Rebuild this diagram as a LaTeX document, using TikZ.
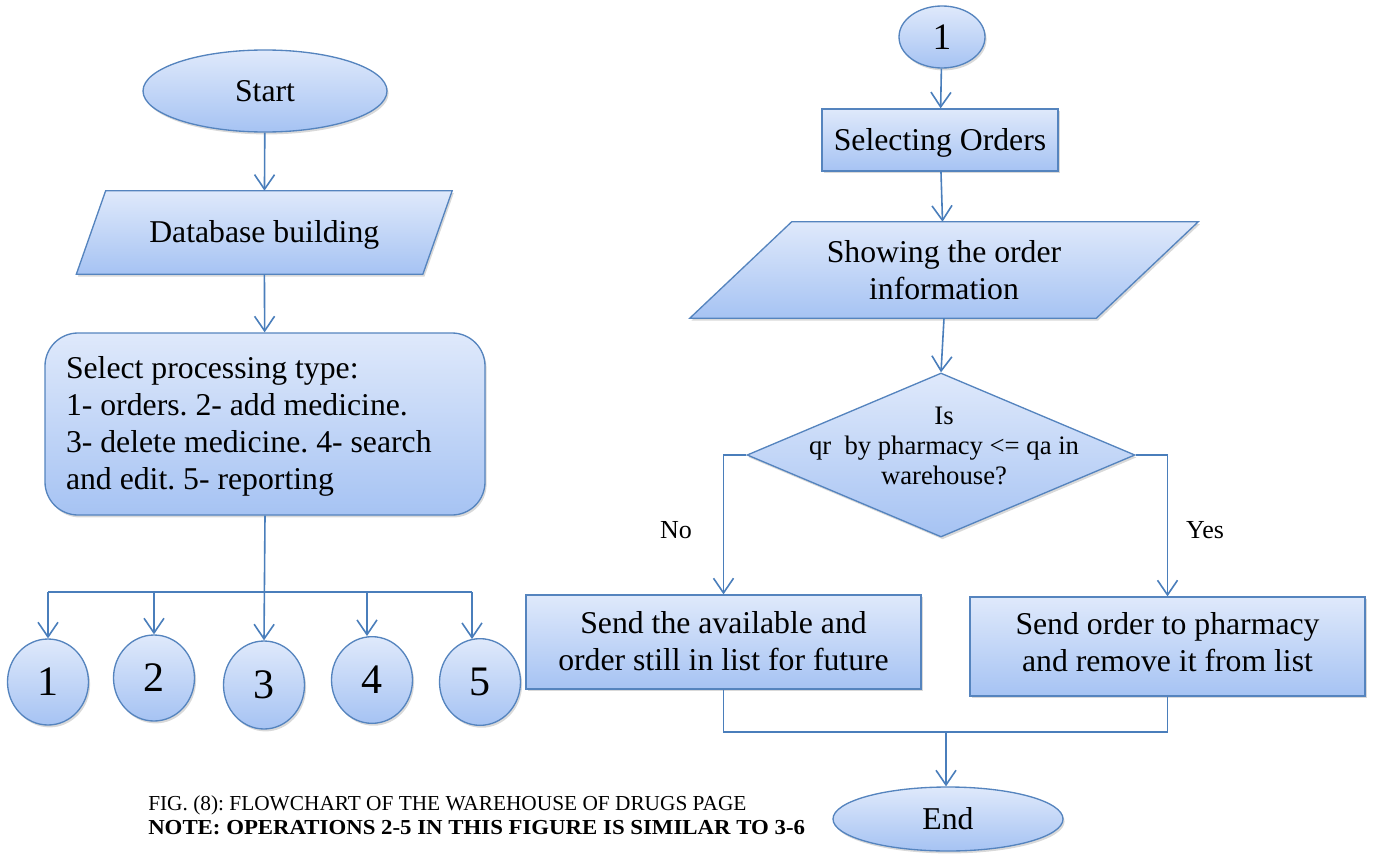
\documentclass[tikz,border=0pt]{standalone}
\usepackage{fontspec}
\setmainfont{Liberation Serif}
\frenchspacing
\usetikzlibrary{shapes.geometric,arrows.meta,shadows,calc}
\definecolor{lc}{HTML}{4A7EBB}
\definecolor{bc}{HTML}{5584BE}
\definecolor{ftop}{HTML}{DFE9FB}
\definecolor{fbot}{HTML}{A6C3F3}
\pgfdeclarelayer{bg}
\pgfsetlayers{bg,main}
\newcommand\bigtxt{\fontsize{20}{23.3}\selectfont}
\newcommand\bt[1]{\scalebox{1.19}{\begin{tabular}{@{}c@{}}#1\end{tabular}}}
\newcommand\btl[1]{\scalebox{1.19}{\begin{tabular}{@{}l@{}}#1\end{tabular}}}
\newcommand\shiftv[2]{\raisebox{#1}[\height][\depth]{#2}}
\tikzset{
  shapefill/.style={draw=bc, line width=1pt, top color=ftop, bottom color=fbot,
    drop shadow={shadow xshift=1.2pt, shadow yshift=-1.8pt, opacity=0.3}},
  term/.style={ellipse, shapefill, inner sep=0pt, font=\bigtxt},
  conn/.style={ellipse, shapefill, inner sep=0pt, minimum width=60.75pt, minimum height=64.5pt, font=\fontsize{31.5}{34}\selectfont},
  procbox/.style={rectangle, shapefill, inner sep=0pt, align=center, font=\bigtxt},
  iotext/.style={rectangle, inner sep=0pt, align=center, font=\bigtxt},
  arr/.style={draw=lc, line width=1.2pt, -{Straight Barb[length=11pt,width=15pt]}},
  ln/.style={draw=lc, line width=1.2pt},
  lbl/.style={inner sep=0pt, font=\fontsize{19.5}{22}\selectfont}
}
\begin{document}
\begin{tikzpicture}[x=0.75pt,y=-0.75pt]
\useasboundingbox (0,0) rectangle (1373,856);

% ---------- left column ----------
\node[term, minimum width=183pt, minimum height=61.5pt] (start) at (265,91) {\shiftv{-2pt}{\bt{Start}}};

\node[iotext, minimum width=259.5pt, minimum height=62.25pt] (db) at (264.25,232.5) {\shiftv{-2pt}{\bt{Database building}}};
\begin{pgfonlayer}{bg}
\path[shapefill] ([xshift=11pt]db.north west) -- ([xshift=11pt]db.north east)
  -- ([xshift=-11pt]db.south east) -- ([xshift=-11pt]db.south west) -- cycle;
\end{pgfonlayer}

\node[rectangle, shapefill, rounded corners=24.75pt, minimum width=330pt, minimum height=136.5pt,
  inner sep=0pt, font=\bigtxt] (sel) at (265,424)
  {\makebox[298.5pt][l]{\shiftv{-2pt}{\btl{Select processing type:\\1- orders. 2- add medicine.\\3- delete medicine. 4- search\\and edit. 5- reporting}}}};

\node[conn] (c1) at (48,682) {1};
\node[conn, minimum height=64.5pt] (c2) at (154,678) {2};
\node[conn, minimum height=66pt] (c3) at (264,685) {3};
\node[conn, minimum height=65pt] (c4) at (372,680) {4};
\node[conn, minimum height=65pt] (c5) at (480,682) {5};

\coordinate (b1) at (48,592);
\coordinate (b2) at (154,592);
\coordinate (b4) at (367,592);
\coordinate (b5) at (472,592);

\draw[arr] (start) -- (db);
\draw[arr] (db) -- (sel);
\draw[arr] (sel.south) -- (c3.north);
\draw[ln] (b1) -- (b5);
\draw[arr] (b1) -- (b1 |- c1.north);
\draw[arr] (b2) -- (b2 |- c2.north);
\draw[arr] (b4) -- (b4 |- c4.north);
\draw[arr] (b5) -- ($(b5 |- c5.north)+(0,1)$);

% ---------- right column ----------
\node[term, minimum width=64.5pt, minimum height=46.5pt, font=\fontsize{28}{30}\selectfont] (one) at (942,37) {1};
\node[procbox, minimum width=177pt, minimum height=46.5pt] (selo) at (940,140) {\shiftv{-2pt}{\bt{Selecting Orders}}};

\node[iotext, minimum width=304.5pt, minimum height=72pt] (show) at (944,270) {\shiftv{-3pt}{\bt{Showing the order\\information}}};
\begin{pgfonlayer}{bg}
\path[shapefill] ([xshift=38.25pt]show.north west) -- ([xshift=38.25pt]show.north east)
  -- ([xshift=-38.25pt]show.south east) -- ([xshift=-38.25pt]show.south west) -- cycle;
\end{pgfonlayer}

\node[diamond, shapefill, inner sep=0pt, minimum width=291pt, minimum height=123pt] (dec) at (941,455) {};
\node[inner sep=0pt, align=center, font=\fontsize{20}{22.5}\selectfont] (dect) at (944,446)
  {Is\\qr\ \ by pharmacy <= qa in\\warehouse?};

\node[procbox, minimum width=296.25pt, minimum height=70.5pt] (lb) at (723.5,642)
  {\shiftv{-2pt}{\bt{Send the available and\\order still in list for future}}};
\node[procbox, minimum width=296.25pt, minimum height=74.25pt] (rb) at (1167.5,646.5)
  {\shiftv{1pt}{\bt{Send order to pharmacy\\and remove it from list}}};

\node[lbl] (no) at (676,530) {No};
\node[lbl] (yes) at (1205,530) {Yes};

\node[term, minimum width=172.5pt, minimum height=48pt] (end) at (948,819) {\shiftv{-2pt}{\bt{End}}};

\coordinate (m) at (946,732);

\draw[arr] (one) -- (selo);
\draw[arr] (selo) -- (show);
\draw[arr] (show.south) -- (dec.north);
\draw[arr] (dec.west) -| (lb.north);
\draw[arr] (dec.east) -| (rb.north);
\draw[ln] (lb.south) |- (m);
\draw[ln] (rb.south) |- (m);
\draw[arr] (m) -- (m |- end.north);

% ---------- caption ----------
\node[anchor=base west, inner sep=0pt, font=\fontsize{16}{19}\selectfont] (cap1) at (148,810)
  {FIG. (8): FLOWCHART OF THE WAREHOUSE OF DRUGS PAGE};
\node[anchor=base west, inner sep=0pt, font=\fontsize{16}{19}\selectfont\bfseries] (cap2) at (148,834)
  {\scalebox{1.07}[1]{NOTE: OPERATIONS 2-5 IN THIS FIGURE IS SIMILAR TO 3-6}};
\end{tikzpicture}
\end{document}
